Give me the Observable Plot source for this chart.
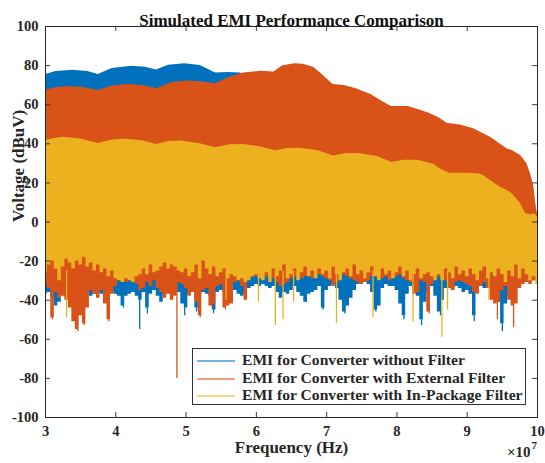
<!DOCTYPE html>
<html><head><meta charset="utf-8">
<script src="https://cdn.jsdelivr.net/npm/d3@7"></script>
<script src="https://cdn.jsdelivr.net/npm/@observablehq/plot@0.6"></script>
<style>
body{margin:0;background:#fff;}
#wrap{position:relative;width:545px;height:463px;font-family:"Liberation Serif","Times New Roman",serif;color:#262626;}
#legend{position:absolute;left:192px;top:348px;width:332px;height:55px;border:1px solid #333;background:#fff;}
.row{position:absolute;left:0;height:18px;width:330px;}
.sw{position:absolute;left:4px;top:9px;width:38px;height:2px;opacity:0.55;}
.lt{position:absolute;left:49px;top:0;font-size:15.6px;font-weight:bold;line-height:18px;white-space:nowrap;}
</style></head><body><div id="wrap"></div>
<script>
// ---- data (frequency in units of 1e7 Hz, voltage in dBuV) ----
const seriesNames = ["EMI for Converter without Filter","EMI for Converter with External Filter","EMI for Converter with In-Package Filter"];
const seriesColors = ["#0072BD","#D95319","#EDB120"];
const xTicks = [3,4,5,6,7,8,9,10];
const yTicks = [-100,-80,-60,-40,-20,0,20,40,60,80,100];

// upper envelopes
const blueUpF = [3.0,3.15,3.39,3.60,3.75,3.95,4.23,4.42,4.58,4.75,4.98,5.20,5.42,5.60,5.77,5.85,6.0,6.5,7.0,7.5,8.0,8.5,9.0,9.5,9.8,9.9,10.0];
const blueUpV = [75.5,77.0,77.6,77.0,75.5,78.5,79.7,79.2,77.8,80.2,81.0,80.0,76.2,76.5,76.2,74,73,72,68,62,55,50,44,33,22,15,3];
const orangeUpF = [3.0,3.12,3.34,3.56,3.75,3.95,4.18,4.40,4.58,4.80,5.03,5.25,5.42,5.62,5.82,6.07,6.25,6.37,6.54,6.67,6.82,6.96,7.09,7.25,7.41,7.63,7.80,7.92,8.16,8.30,8.45,8.60,8.71,8.90,9.09,9.33,9.57,9.64,9.76,9.85,9.90,9.95,9.97,9.99,10.0];
const orangeUpV = [67.2,68.6,69.3,68.7,67.2,69.6,70.3,69.7,68.1,71.3,72.1,71.6,70.7,74.1,76.2,77.1,76.7,79.8,81.0,80.7,79.0,74.7,70.3,69.8,68.3,65.2,61.5,59.1,59.1,57.5,55.7,53.3,50.5,49.6,47.7,43.4,37.4,36.6,34.0,29.8,24.7,17.8,11,6,4];
const yellowUpF = [3.0,3.24,3.50,3.75,3.95,4.13,4.38,4.58,4.75,4.93,5.20,5.42,5.62,5.82,6.05,6.27,6.45,6.62,6.88,7.10,7.28,7.46,7.72,7.93,8.10,8.30,8.52,8.61,8.75,9.0,9.18,9.23,9.33,9.47,9.57,9.64,9.76,9.83,9.90,9.96,10.0];
const yellowUpV = [41.8,43.4,42.5,40.2,42.0,42.3,41.5,39.7,41.2,41.4,40.0,38.0,39.5,39.7,38.5,36.4,37.6,37.7,36.5,33.8,35.0,35.0,33.5,30.4,31.6,31.6,29.5,27.2,25.0,25.0,24.6,23.8,21.2,17.8,16.1,14.4,9.3,4.2,3.7,4.2,2.5];

// lower (ragged) edges on a common frequency grid
const lowF = [3.00,3.05,3.10,3.15,3.20,3.25,3.30,3.35,3.40,3.45,3.50,3.55,3.60,3.65,3.70,3.75,3.80,3.85,3.90,3.95,
4.00,4.05,4.10,4.15,4.20,4.25,4.30,4.35,4.40,4.45,4.50,4.55,4.60,4.65,4.70,4.75,4.80,4.85,4.90,4.95,
5.00,5.05,5.10,5.15,5.20,5.25,5.30,5.35,5.40,5.45,5.50,5.55,5.60,5.65,5.70,5.75,5.80,5.85,5.90,5.95,
6.00,6.05,6.10,6.15,6.20,6.25,6.30,6.35,6.40,6.45,6.50,6.55,6.60,6.65,6.70,6.75,6.80,6.85,6.90,6.95,
7.00,7.05,7.10,7.15,7.20,7.25,7.30,7.35,7.40,7.45,7.50,7.55,7.60,7.65,7.70,7.75,7.80,7.85,7.90,7.95,
8.00,8.05,8.10,8.15,8.20,8.25,8.30,8.35,8.40,8.45,8.50,8.55,8.60,8.65,8.70,8.75,8.80,8.85,8.90,8.95,
9.00,9.05,9.10,9.15,9.20,9.25,9.30,9.35,9.40,9.45,9.50,9.55,9.60,9.65,9.70,9.75,9.80,9.85,9.90,9.95,10.00];
const blueLow = [-37,-36,-39,-43,-41,-37,-36,-40,-37,-36,-38,-37,-36,-38,-37,-36,-37,-36,-35,-36,
-37,-38,-43,-38,-37,-36,-38,-40,-36,-44,-37,-35,-38,-41,-37,-36,-37,-35,-36,-42,
-44,-37,-36,-44,-37,-36,-37,-38,-45,-36,-35,-36,-35,-34,-35,-37,-38,-37,-34,-33,
-32,-33,-32,-33,-34,-33,-36,-39,-36,-37,-35,-33,-36,-38,-41,-37,-36,-35,-33,-44,
-35,-33,-32,-34,-40,-46,-43,-39,-35,-32,-31,-30,-32,-36,-45,-43,-34,-32,-33,-33,
-35,-42,-48,-37,-33,-34,-38,-50,-41,-36,-33,-38,-46,-40,-34,-33,-35,-33,-34,-36,
-35,-37,-48,-36,-33,-34,-33,-35,-37,-41,-52,-42,-38,-37,-34,-33,-31,-30,-31,-30,-30];
const orangeLow = [-32,-34,-49,-36,-39,-38,-40,-44,-51,-55,-48,-52,-44,-35,-37,-39,-35,-42,-50,-37,
-33,-30,-29,-31,-30,-29,-32,-35,-34,-31,-33,-30,-34,-36,-39,-37,-40,-38,-31,-32,
-34,-38,-36,-41,-48,-35,-34,-43,-42,-33,-32,-44,-43,-42,-31,-30,-33,-40,-29,-28,
-28,-27,-29,-28,-27,-29,-31,-33,-32,-31,-29,-28,-27,-29,-28,-27,-29,-28,-27,-28,
-29,-30,-33,-31,-28,-27,-28,-29,-30,-31,-32,-31,-30,-28,-27,-28,-29,-28,-30,-29,
-28,-27,-29,-30,-31,-37,-36,-30,-31,-46,-32,-29,-28,-29,-30,-34,-35,-31,-30,-31,
-32,-33,-36,-37,-33,-31,-34,-40,-42,-41,-35,-33,-40,-43,-42,-34,-32,-31,-32,-30,-29];
const yellowLow = [-26,-22,-20,-24,-30,-23,-19,-21,-24,-20,-22,-18,-23,-21,-25,-22,-26,-24,-28,-25,
-29,-30,-31,-29,-30,-31,-28,-27,-24,-27,-22,-26,-25,-23,-21,-24,-22,-23,-25,-26,
-24,-28,-26,-22,-29,-20,-24,-27,-23,-28,-26,-24,-29,-27,-28,-30,-29,-31,-30,-28,
-27,-29,-30,-26,-31,-24,-28,-25,-22,-29,-27,-24,-30,-26,-23,-28,-25,-29,-24,-27,
-25,-29,-23,-27,-30,-26,-24,-28,-22,-27,-25,-29,-26,-23,-28,-30,-24,-27,-25,-29,
-26,-23,-28,-25,-30,-27,-24,-29,-27,-26,-28,-30,-27,-30,-24,-26,-29,-23,-27,-25,
-28,-24,-27,-30,-25,-23,-29,-26,-28,-24,-27,-31,-25,-28,-22,-29,-24,-27,-30,-28,-32];

// narrow downward spikes
const blueSpikeF = [4.11,4.34,4.45,4.98,5.15,5.39,6.71,6.95,7.26,7.70,8.10,8.35,8.62,9.10,9.50];
const blueSpikeV = [-44,-55,-47,-48,-46,-47,-41,-45,-47,-46,-50,-53,-48,-51,-56];
const orangeSpikeF = [3.10,3.46,3.55,3.90,4.87,5.20,5.37,5.56,8.46,9.43,9.66];
const orangeSpikeV = [-50,-56,-53,-51,-80,-49,-44,-45,-47,-50,-54];
const yellowSpikeF = [3.30,5.57,6.03,6.27,6.38,6.53,7.14,7.66,8.23,8.64,8.72,9.31];
const yellowSpikeV = [-49,-40,-41,-53,-50,-41,-52,-49,-51,-59,-45,-40];

const titleText = "Simulated EMI Performance Comparison";
const xLabel = "Frequency (Hz)";
const yLabel = "Voltage (dBuV)";

// ---- build ----
const ink = "#262626";
const series = [
  {c: seriesColors[0], uf: blueUpF, uv: blueUpV, low: blueLow, sf: blueSpikeF, sv: blueSpikeV},
  {c: seriesColors[1], uf: orangeUpF, uv: orangeUpV, low: orangeLow, sf: orangeSpikeF, sv: orangeSpikeV},
  {c: seriesColors[2], uf: yellowUpF, uv: yellowUpV, low: yellowLow, sf: yellowSpikeF, sv: yellowSpikeV}
];
const marks = [];
for (const s of series) {
  const up = s.uf.map((f, i) => ({f, v: s.uv[i]}));
  const lo = lowF.map((f, i) => ({f, v: s.low[i]}));
  const sp = s.sf.map((f, i) => ({f, v: s.sv[i]}));
  marks.push(Plot.areaY(up, {x: "f", y1: () => -15, y2: "v", fill: s.c}));
  marks.push(Plot.areaY(lo, {x: "f", y1: "v", y2: () => -10, fill: s.c, curve: "step"}));
  marks.push(Plot.ruleX(sp, {x: "f", y1: "v", y2: () => -25, stroke: s.c, strokeWidth: 1.3}));
}
const plotH = 463 - 26 - 46, plotW = 545 - 45 - 8;
marks.push(
  Plot.tickX(xTicks, {x: d => d, insetTop: plotH - 5, stroke: ink, strokeWidth: 0.9}),
  Plot.tickX(xTicks, {x: d => d, insetBottom: plotH - 5, stroke: ink, strokeWidth: 0.9}),
  Plot.tickY(yTicks, {y: d => d, insetRight: plotW - 5, stroke: ink, strokeWidth: 0.9}),
  Plot.tickY(yTicks, {y: d => d, insetLeft: plotW - 5, stroke: ink, strokeWidth: 0.9}),
  Plot.frame({stroke: ink, strokeWidth: 1}),
  Plot.axisX({ticks: xTicks, tickSize: 0, tickPadding: 8, tickFormat: d => String(d), label: null, fontSize: 14.5}),
  Plot.axisY({ticks: yTicks, tickSize: 0, tickPadding: 7, tickFormat: d => String(d), label: null, fontSize: 14.5}),
  Plot.text([titleText], {text: d => d, frameAnchor: "top", dy: -13, fontSize: 17, fontWeight: "bold", fill: "#111"}),
  Plot.text([xLabel], {text: d => d, frameAnchor: "bottom", dy: 35, fontSize: 17, fontWeight: "bold", fill: ink}),
  Plot.text([yLabel], {text: d => d, frameAnchor: "left", dx: -27, rotate: -90, fontSize: 17, fontWeight: "bold", fill: ink}),
  Plot.text(["×10"], {text: d => d, frameAnchor: "bottom-right", textAnchor: "end", dx: -7, dy: 39, fontSize: 15, fill: ink}),
  Plot.text(["7"], {text: d => d, frameAnchor: "bottom-right", textAnchor: "start", dx: -6, dy: 31, fontSize: 11, fill: ink})
);

const chart = Plot.plot({
  width: 545, height: 463,
  marginLeft: 45, marginRight: 8, marginTop: 26, marginBottom: 46,
  x: {domain: [3, 10]},
  y: {domain: [-100, 100]},
  style: {fontFamily: '"Liberation Serif","Times New Roman",serif', fontWeight: "bold", fontSize: "14px", color: ink, background: "#fff"},
  marks
});
const wrap = document.getElementById("wrap");
wrap.appendChild(chart);

const leg = document.createElement("div");
leg.id = "legend";
seriesNames.forEach((name, i) => {
  const row = document.createElement("div");
  row.className = "row";
  row.style.top = (2 + i * 17.6) + "px";
  const sw = document.createElement("div");
  sw.className = "sw";
  sw.style.background = seriesColors[i];
  const t = document.createElement("div");
  t.className = "lt";
  t.textContent = name;
  row.appendChild(sw); row.appendChild(t);
  leg.appendChild(row);
});
wrap.appendChild(leg);
</script>
</body></html>
